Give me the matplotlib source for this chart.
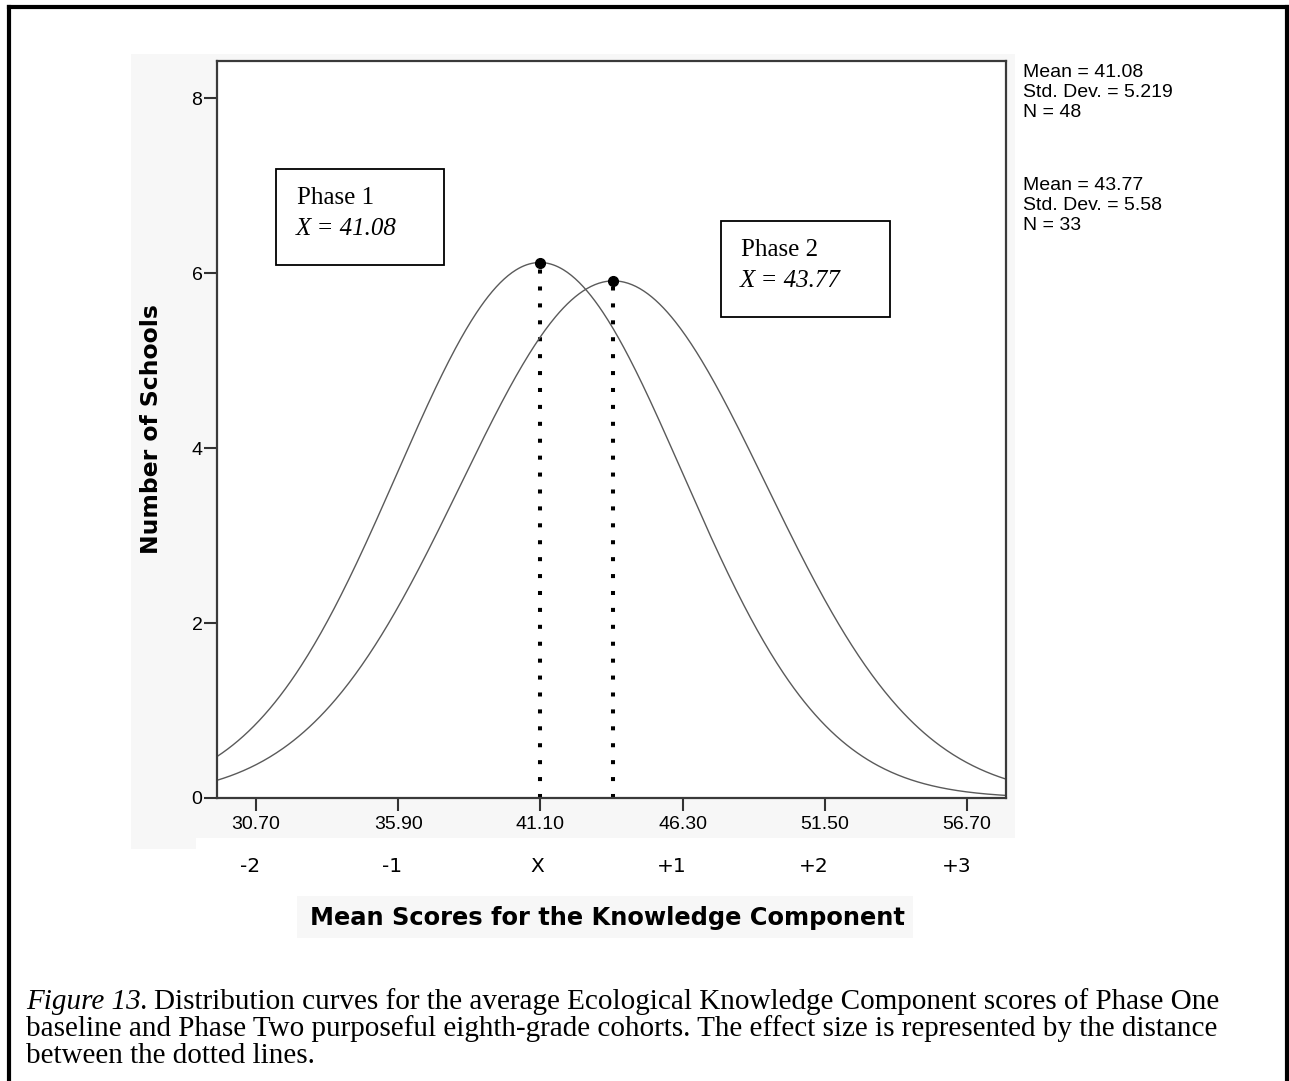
import numpy as np
import matplotlib.pyplot as plt
from matplotlib.patches import Rectangle
from matplotlib.transforms import ScaledTranslation, blended_transform_factory

# values
phase_names = ['Phase 1', 'Phase 2']
phase_means = [41.08, 43.77]
phase_sds = [5.219, 5.58]
phase_ns = [48, 33]
peak_counts = [6.12, 5.91]

xtick_vals = [30.70, 35.90, 41.10, 46.30, 51.50, 56.70]
xtick_labels = ['30.70', '35.90', '41.10', '46.30', '51.50', '56.70']
sigma_labels = ['-2', '-1', 'X', '+1', '+2', '+3']
ytick_vals = [0, 2, 4, 6, 8]

caption_lines = [
    'Distribution curves for the average Ecological Knowledge Component scores of Phase One',
    'baseline and Phase Two purposeful eighth-grade cohorts. The effect size is represented by the distance',
    'between the dotted lines.',
]

W, H = 1289, 1081
fig = plt.figure(figsize=(W / 100, H / 100), dpi=100)
fig.patch.set_facecolor('white')

def fx(px):
    return px / W

def fy(py):
    return 1 - py / H

# light grey panel behind the chart
for x0, y0, x1, y1 in [(131, 54, 1015, 838), (131, 838, 196, 849), (297, 896, 913, 938)]:
    fig.patches.append(Rectangle((fx(x0), fy(y1)), fx(x1) - fx(x0), fy(y0) - fy(y1),
                                 transform=fig.transFigure, facecolor='#f7f7f7',
                                 edgecolor='none', zorder=-5))

ax = fig.add_axes([fx(217), fy(798), fx(1006) - fx(217), fy(61) - fy(798)])
ax.set_facecolor('white')

xmin, xmax = 29.274, 58.126
xs = np.linspace(xmin, xmax, 600)
for m, s, pk in zip(phase_means, phase_sds, peak_counts):
    ys = pk * np.exp(-0.5 * ((xs - m) / s) ** 2)
    ax.plot(xs, ys, color='#5a5a5a', lw=1.0)
    ax.vlines(m, 0, pk, colors='black', linestyles=(0, (1, 3.2)), linewidth=2.9)
    ax.plot(m, pk, 'o', color='black', ms=7)

ax.set_xlim(xmin, xmax)
ax.set_ylim(0, 8.423)
ax.set_xticks(xtick_vals)
ax.set_xticklabels(xtick_labels, fontfamily='Liberation Sans', fontsize=14)
ax.set_yticks(ytick_vals)
ax.set_yticklabels([str(v) for v in ytick_vals], fontfamily='Liberation Sans', fontsize=14)
ax.tick_params(axis='x', length=9, width=1.5, color='#333333', pad=4)
ax.tick_params(axis='y', length=9.5, width=1.5, color='#333333', pad=1)
for sp in ax.spines.values():
    sp.set_color('#3a3a3a')
    sp.set_linewidth(1.6)

# standard deviation labels under the ticks
tr = blended_transform_factory(ax.transData, fig.transFigure) + ScaledTranslation(4 / 100, 0, fig.dpi_scale_trans)
for v, lab in zip(xtick_vals, sigma_labels):
    fig.text(v, fy(867), lab, transform=tr, ha='right', va='center',
             fontfamily='DejaVu Sans', fontsize=14.5)

fig.text(fx(607), fy(918), 'Mean Scores for the Knowledge Component', ha='center', va='center',
         fontfamily='DejaVu Sans', fontweight='bold', fontsize=17.4)
fig.text(fx(152), fy(429), 'Number of Schools', ha='center', va='center', rotation=90,
         fontfamily='DejaVu Sans', fontweight='bold', fontsize=16.9)

# SPSS statistics text on the right
stat_tops = [[76.7, 97, 116.7], [190, 210, 230]]
for i, (m, s, n) in enumerate(zip(phase_means, phase_sds, phase_ns)):
    lines = ['Mean = %.2f' % m, 'Std. Dev. = %s' % (('%.3f' % s).rstrip('0')), 'N = %d' % n]
    for ln, yb in zip(lines, stat_tops[i]):
        fig.text(fx(1023), fy(yb), ln, ha='left', va='baseline',
                 fontfamily='Liberation Sans', fontsize=14)

# phase text boxes
boxes = [(276, 169, 444, 265), (721, 221, 890, 317)]
text_pos = [(297, 204, 235), (741, 256, 287)]
for name, m, (x0, y0, x1, y1), (tx, b1, b2) in zip(phase_names, phase_means, boxes, text_pos):
    fig.patches.append(Rectangle((fx(x0), fy(y1)), fx(x1) - fx(x0), fy(y0) - fy(y1),
                                 transform=fig.transFigure, facecolor='white', edgecolor='black',
                                 lw=1.3, zorder=5))
    fig.text(fx(tx), fy(b1), name, ha='left', va='baseline', fontfamily='Liberation Serif',
             fontsize=18, zorder=6)
    fig.text(fx(tx - 1), fy(b2), 'X = %.2f' % m, ha='left', va='baseline', fontfamily='Liberation Serif',
             fontstyle='italic', fontsize=18, zorder=6)

# caption
cap_size = 21
renderer = fig.canvas.get_renderer()
lead = fig.text(fx(26), fy(1009), 'Figure 13.', ha='left', va='baseline', fontfamily='Liberation Serif',
                fontstyle='italic', fontsize=cap_size)
lead_w = lead.get_window_extent(renderer).width
fig.text(fx(26) + (lead_w + 6) / W, fy(1009), caption_lines[0], ha='left', va='baseline',
         fontfamily='Liberation Serif', fontsize=cap_size)
fig.text(fx(26), fy(1036), caption_lines[1], ha='left', va='baseline',
         fontfamily='Liberation Serif', fontsize=cap_size)
fig.text(fx(26), fy(1063), caption_lines[2], ha='left', va='baseline',
         fontfamily='Liberation Serif', fontsize=cap_size)

# outer frame (open at the bottom)
fig.lines.append(plt.Line2D([fx(9), fx(9)], [0, fy(7)], transform=fig.transFigure, color='black', lw=3))
fig.lines.append(plt.Line2D([fx(9), fx(1287)], [fy(7), fy(7)], transform=fig.transFigure, color='black', lw=3))
fig.lines.append(plt.Line2D([fx(1287), fx(1287)], [0, fy(7)], transform=fig.transFigure, color='black', lw=3))

fig.savefig('out.png', dpi=100)
